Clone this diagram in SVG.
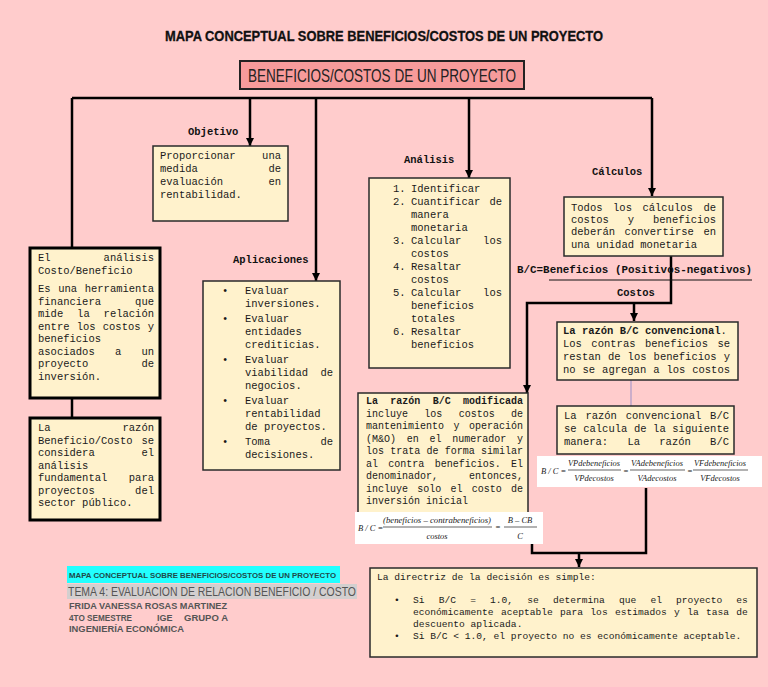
<svg xmlns="http://www.w3.org/2000/svg" width="768" height="687" viewBox="0 0 768 687">
<style>
.box{fill:#FFF2CC;stroke:#2a2a2a;stroke-width:1.5}
.boxL{fill:#FFF2CC;stroke:#000;stroke-width:3}
.t{font-family:"Liberation Mono",monospace;font-size:10.5px;fill:#1a1a1a}
.s{font-size:10px}
.xs{font-size:9.6px}
.b{font-weight:bold}
.lbl{font-family:"Liberation Mono",monospace;font-size:10.5px;font-weight:bold;fill:#111}
.c{stroke:#000;stroke-width:2.5;fill:none}
.f{font-family:"Liberation Serif",serif;font-style:italic;font-size:8.5px;fill:#222}
.fl{stroke:#222;stroke-width:0.7}
.g{font-family:"Liberation Sans",sans-serif;fill:#555}
</style>
<defs>
<marker id="ah" markerUnits="userSpaceOnUse" markerWidth="9" markerHeight="9" refX="8" refY="4" orient="auto">
<path d="M0,0 L8,4 L0,8 z" fill="#000"/>
</marker>
</defs>
<rect width="768" height="687" fill="#FFCCCC"/>

<text x="384" y="41" text-anchor="middle" font-family="Liberation Sans,sans-serif" font-weight="bold" font-size="14.5" textLength="438" lengthAdjust="spacingAndGlyphs" fill="#111" stroke="#111" stroke-width="0.3">MAPA CONCEPTUAL SOBRE BENEFICIOS/COSTOS DE UN PROYECTO</text>

<g id="connectors">
<path class="c" d="M72,98 H652" stroke-width="3"/>
<path class="c" d="M72,98 V248"/>
<path class="c" d="M250,98 V146" marker-end="url(#ah)"/>
<path class="c" d="M316,98 V281" marker-end="url(#ah)"/>
<path class="c" d="M469,98 V178" marker-end="url(#ah)"/>
<path class="c" d="M652,98 V196" marker-end="url(#ah)"/>
<path class="c" d="M72,398 V418" stroke-width="3"/>
<path class="c" d="M671,256 V303 H527 V393" marker-end="url(#ah)"/>
<path class="c" d="M634,303 V321" marker-end="url(#ah)"/>
<path d="M631,380 V406" stroke="#9a8fc8" stroke-width="1"/>
<path class="c" d="M646,488 V553 H532 V544"/>
<path class="c" d="M579,553 V567" marker-end="url(#ah)"/>
<path d="M549,280 H752" stroke="#111" stroke-width="1.2"/>
</g>

<g id="main">
<rect x="240" y="61" width="284" height="28" fill="#F79B9B" stroke="#222" stroke-width="2"/>
<text x="382" y="82" text-anchor="middle" font-family="Liberation Sans,sans-serif" font-size="17.5" textLength="268" lengthAdjust="spacingAndGlyphs" fill="#222">BENEFICIOS/COSTOS DE UN PROYECTO</text>
</g>

<g id="objetivo">
<text class="lbl" x="188" y="135">Objetivo</text>
<rect class="box" x="153" y="146" width="135" height="75"/>
<text class="t" x="160" y="159" word-spacing="20.2">Proporcionar una</text>
<text class="t" x="160" y="172" word-spacing="64.3">medida de</text>
<text class="t" x="160" y="185" word-spacing="39.1">evaluación en</text>
<text class="t" x="160" y="198">rentabilidad.</text>
</g>

<g id="analisis">
<text class="lbl" x="404" y="163">Análisis</text>
<rect class="box" x="369" y="178" width="141" height="190"/>
<g class="t">
<text x="393" y="192">1.<tspan x="411">Identificar</tspan></text>
<text x="393" y="205">2.<tspan x="411" word-spacing="2.8">Cuantificar de</tspan></text>
<text x="411" y="218">manera</text>
<text x="411" y="231">monetaria</text>
<text x="393" y="244">3.<tspan x="411" word-spacing="15.4">Calcular los</tspan></text>
<text x="411" y="257">costos</text>
<text x="393" y="270">4.<tspan x="411">Resaltar</tspan></text>
<text x="411" y="283">costos</text>
<text x="393" y="296">5.<tspan x="411" word-spacing="15.4">Calcular los</tspan></text>
<text x="411" y="309">beneficios</text>
<text x="411" y="322">totales</text>
<text x="393" y="335">6.<tspan x="411">Resaltar</tspan></text>
<text x="411" y="348">beneficios</text>
</g>
</g>

<g id="calculos">
<text class="lbl" x="592" y="175">Cálculos</text>
<rect class="box" x="564" y="197" width="159" height="59"/>
<text class="t" x="571" y="210.5" word-spacing="4.23">Todos los cálculos de</text>
<text class="t" x="571" y="222.5" word-spacing="12.65">costos y beneficios</text>
<text class="t" x="571" y="234.5" word-spacing="3.2">deberán convertirse en</text>
<text class="t" x="571" y="247.5">una unidad monetaria</text>
</g>

<g id="formula-bc">
<text class="lbl" x="517" y="273" textLength="235" lengthAdjust="spacingAndGlyphs">B/C=Beneficios (Positivos-negativos)</text>
<text class="lbl" x="617" y="296">Costos</text>
</g>

<g id="analisis-cb">
<rect class="boxL" x="30" y="248" width="130" height="150"/>
<g class="t">
<text x="38" y="261" word-spacing="46.7">El análisis</text>
<text x="38" y="274">Costo/Beneficio</text>
<text x="38" y="292" word-spacing="1.3">Es una herramienta</text>
<text x="38" y="304.5" word-spacing="27.8">financiera que</text>
<text x="38" y="317" word-spacing="7.6">mide la relación</text>
<text x="38" y="329.5" word-spacing="0.87">entre los costos y</text>
<text x="38" y="342">beneficios</text>
<text x="38" y="354.5" word-spacing="13.9">asociados a un</text>
<text x="38" y="367" word-spacing="46.7">proyecto de</text>
<text x="38" y="379.5">inversión.</text>
</g>
</g>

<g id="razon-bc">
<rect class="boxL" x="30" y="418" width="130" height="102"/>
<g class="t">
<text x="38" y="431" word-spacing="65.6">La razón</text>
<text x="38" y="443.5" word-spacing="2.6">Beneficio/Costo se</text>
<text x="38" y="456" word-spacing="40.4">considera el</text>
<text x="38" y="468.5">análisis</text>
<text x="38" y="481" word-spacing="15.2">fundamental para</text>
<text x="38" y="493.5" word-spacing="34.1">proyectos del</text>
<text x="38" y="506">sector público.</text>
</g>
</g>

<g id="aplicaciones">
<text class="lbl" x="233" y="263">Aplicaciones</text>
<rect class="box" x="203" y="281" width="137" height="189"/>
<g class="t">
<text x="222" y="294">•<tspan x="245">Evaluar</tspan></text>
<text x="245" y="307">inversiones.</text>
<text x="222" y="322">•<tspan x="245">Evaluar</tspan></text>
<text x="245" y="335">entidades</text>
<text x="245" y="348">crediticias.</text>
<text x="222" y="363">•<tspan x="245">Evaluar</tspan></text>
<text x="245" y="376" word-spacing="6.1">viabilidad de</text>
<text x="245" y="389">negocios.</text>
<text x="222" y="404">•<tspan x="245">Evaluar</tspan></text>
<text x="245" y="417">rentabilidad</text>
<text x="245" y="430">de proyectos.</text>
<text x="222" y="445">•<tspan x="245" word-spacing="43.9">Toma de</tspan></text>
<text x="245" y="458">decisiones.</text>
</g>
</g>

<g id="modificada">
<rect class="box" x="358" y="393" width="170" height="122"/>
<g class="t s">
<text class="b" x="366" y="404" word-spacing="6.33">La razón B/C modificada</text>
<text x="366" y="416.5" word-spacing="10.33">incluye los costos de</text>
<text x="366" y="429" word-spacing="3.5">mantenimiento y operación</text>
<text x="366" y="441.5" word-spacing="4.75">(M&amp;O) en el numerador y</text>
<text x="366" y="454" word-spacing="0.25">los trata de forma similar</text>
<text x="366" y="466.5" word-spacing="4.33">al contra beneficios. El</text>
<text x="366" y="479" word-spacing="25">denominador, entonces,</text>
<text x="366" y="491.5" word-spacing="3.25">incluye solo el costo de</text>
<text x="366" y="504">inversión inicial</text>
</g>
<rect x="355" y="512" width="188" height="32" fill="#fff"/>
<text class="f" x="358" y="531" font-size="9">B / C =</text>
<text class="f" x="437" y="523" text-anchor="middle" textLength="108" lengthAdjust="spacingAndGlyphs">(beneficios – contrabeneficios)</text>
<path class="fl" d="M383,527 H492"/>
<text class="f" x="437" y="539" text-anchor="middle">costos</text>
<text class="f" x="495" y="530" font-size="9">=</text>
<text class="f" x="520" y="523" text-anchor="middle">B – CB</text>
<path class="fl" d="M504,527 H537"/>
<text class="f" x="520" y="539" text-anchor="middle">C</text>
</g>

<g id="convencional">
<rect class="box" x="557" y="322" width="181" height="58"/>
<g class="t">
<text x="563" y="333.5"><tspan class="b">La razón B/C convencional</tspan>.</text>
<text x="563" y="346.5" word-spacing="3.17">Los contras beneficios se</text>
<text x="563" y="359.5" word-spacing="0.8">restan de los beneficios y</text>
<text x="563" y="373" word-spacing="0.64">no se agregan a los costos</text>
</g>
</g>

<g id="convencional-calculo">
<rect class="box" x="557" y="406" width="177" height="48"/>
<g class="t">
<text x="564" y="418.5" word-spacing="2.5">La razón convencional B/C</text>
<text x="564" y="431.5" word-spacing="0.3">se calcula de la siguiente</text>
<text x="564" y="444.5" word-spacing="13">manera: La razón B/C</text>
</g>
<rect x="537" y="456" width="225" height="31" fill="#fff"/>
<text class="f" x="541" y="474">B / C =</text>
<text class="f" x="594" y="466" text-anchor="middle" textLength="52" lengthAdjust="spacingAndGlyphs">VPdebeneficios</text>
<path class="fl" d="M568,470 H621"/>
<text class="f" x="594" y="481" text-anchor="middle">VPdecostos</text>
<text class="f" x="623" y="474">=</text>
<text class="f" x="657" y="466" text-anchor="middle" textLength="52" lengthAdjust="spacingAndGlyphs">VAdebeneficios</text>
<path class="fl" d="M630,470 H685"/>
<text class="f" x="657" y="481" text-anchor="middle">VAdecostos</text>
<text class="f" x="687" y="474">=</text>
<text class="f" x="720" y="466" text-anchor="middle" textLength="52" lengthAdjust="spacingAndGlyphs">VFdebeneficios</text>
<path class="fl" d="M693,470 H748"/>
<text class="f" x="720" y="481" text-anchor="middle">VFdecostos</text>
</g>

<g id="decision">
<rect class="box" x="370" y="568" width="387" height="89"/>
<g class="t xs">
<text x="377" y="580">La directriz de la decisión es simple:</text>
<text x="394" y="603">•<tspan x="413" word-spacing="8.42">Si B/C = 1.0, se determina que el proyecto es</tspan></text>
<text x="413" y="615" word-spacing="1.55">económicamente aceptable para los estimados y la tasa de</text>
<text x="413" y="627">descuento aplicada.</text>
<text x="394" y="639">•<tspan x="413">Si B/C &lt; 1.0, el proyecto no es económicamente aceptable.</tspan></text>
</g>
</g>

<g id="autor">
<rect x="67" y="566" width="273" height="17" fill="#22FFFF"/>
<text x="69" y="578" font-family="Liberation Sans,sans-serif" font-weight="bold" font-size="8" textLength="267" lengthAdjust="spacingAndGlyphs" fill="#1f4a4a">MAPA CONCEPTUAL SOBRE BENEFICIOS/COSTOS DE UN PROYECTO</text>
<rect x="67" y="584" width="290" height="15" fill="#D3CFCF"/>
<text class="g" transform="translate(68,596) scale(0.8,1)" x="0" y="0" font-size="12.5" textLength="360" lengthAdjust="spacingAndGlyphs">TEMA 4: EVALUACION DE RELACION BENEFICIO / COSTO</text>
<text class="g" x="69" y="609" font-size="9" font-weight="bold" textLength="158" lengthAdjust="spacingAndGlyphs">FRIDA VANESSA ROSAS MARTINEZ</text>
<text class="g" x="69" y="621" font-size="9" font-weight="bold" textLength="63" lengthAdjust="spacingAndGlyphs">4TO SEMESTRE</text>
<text class="g" x="157" y="621" font-size="9" font-weight="bold">IGE</text>
<text class="g" x="184" y="621" font-size="9" font-weight="bold" textLength="44" lengthAdjust="spacingAndGlyphs">GRUPO A</text>
<text class="g" x="69" y="632" font-size="9" font-weight="bold" textLength="115" lengthAdjust="spacingAndGlyphs">INGENIERÍA ECONÓMICA</text>
</g>
</svg>
